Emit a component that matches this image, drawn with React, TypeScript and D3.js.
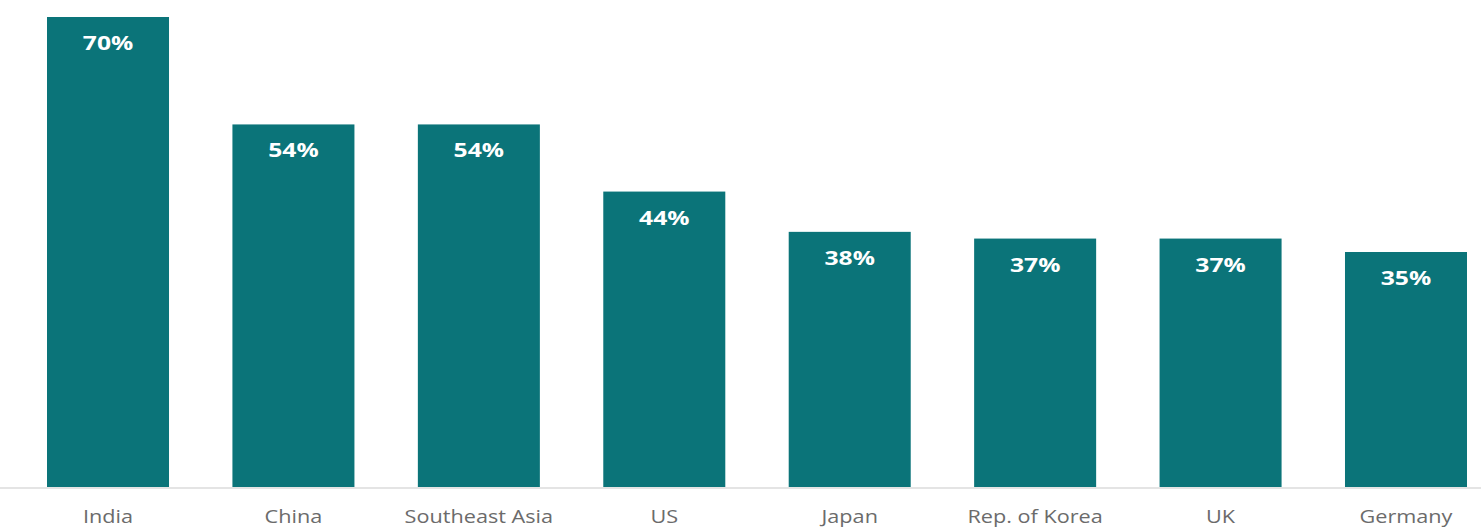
import React from "react";
import * as d3 from "d3";

const categories = ["India", "China", "Southeast Asia", "US", "Japan", "Rep. of Korea", "UK", "Germany"];
const values = [70, 54, 54, 44, 38, 37, 37, 35];

const W = 1481;
const H = 531;

export default function App() {
  const x = d3.scaleBand<string>().domain(categories).range([47, 1467]).paddingInner(0.342).paddingOuter(0);
  const y = d3.scaleLinear().domain([0, 70]).range([487, 17]);
  const font = "'Open Sans', 'Noto Sans', sans-serif";
  return (
    <svg width={W} height={H} style={{ position: "absolute", left: 0, top: 0, background: "#fff" }}>
      <line x1={0} x2={W} y1={488} y2={488} stroke="#e4e4e4" strokeWidth={2} />
      {categories.map((c, i) => {
        const cx = (x(c) as number) + x.bandwidth() / 2;
        return (
          <g key={c}>
            <rect x={x(c)} y={y(values[i])} width={x.bandwidth()} height={y(0) - y(values[i])} fill="#0b7479" />
            <g transform={`translate(${cx},${y(values[i]) + 33}) scale(1.3,1)`}>
              <text textAnchor="middle" fill="#ffffff" fontFamily={font} fontWeight={700} fontSize={19}>
                {values[i]}%
              </text>
            </g>
            <g transform={`translate(${cx},523) scale(1.14,1)`}>
              <text textAnchor="middle" fill="#6b6b6b" fontFamily={font} fontSize={19}>
                {c}
              </text>
            </g>
          </g>
        );
      })}
    </svg>
  );
}
